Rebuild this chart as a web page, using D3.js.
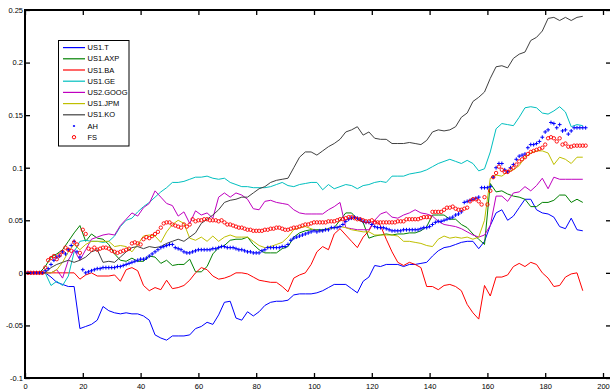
<!DOCTYPE html>
<html>
<head>
<meta charset="utf-8">
<script src="https://cdn.jsdelivr.net/npm/d3@7"></script>
<style>
  html, body { margin: 0; padding: 0; background: #fff; }
  svg { display: block; }
  text { font-family: "Liberation Sans", Arial, Helvetica, sans-serif; font-size: 7.5px; fill: #000; }
</style>
</head>
<body>
<svg id="chart" width="610" height="390"></svg>
<script>
// Line series are sampled every second day (1, 3, ..., 193)
const lineDays = d3.range(1, 194, 2);
// Marker series are sampled every day (1 ... 194)
const markerDays = d3.range(1, 195);

const T = [
  0,0,0,0,-0.004,-0.009,-0.011,-0.013,-0.013,-0.053,
  -0.051,-0.049,-0.045,-0.032,-0.036,-0.038,-0.039,-0.038,-0.039,-0.039,
  -0.041,-0.045,-0.059,-0.062,-0.064,-0.06,-0.06,-0.06,-0.059,-0.053,
  -0.051,-0.047,-0.049,-0.04,-0.028,-0.027,-0.043,-0.045,-0.037,-0.041,
  -0.037,-0.031,-0.028,-0.027,-0.027,-0.026,-0.021,-0.02,-0.02,-0.02,
  -0.019,-0.017,-0.014,-0.011,-0.011,-0.011,-0.015,-0.019,-0.008,-0.004,
  0.007,0.006,0.008,0.008,0.008,0.006,0.008,0.008,0.009,0.01,
  0.016,0.021,0.024,0.025,0.027,0.029,0.03,0.03,0.023,0.03,
  0.045,0.057,0.06,0.05,0.054,0.062,0.07,0.07,0.06,0.057,
  0.056,0.053,0.044,0.042,0.052,0.041,0.04
];
const AXP = [
  0,0,0,0.006,0.015,0.018,0.022,0.03,0.038,0.045,
  0.03,0.037,0.033,0.032,0.027,0.018,0.012,0.011,0.014,0.011,
  0.011,0.016,0.015,0.009,0.012,0.007,0.008,0.008,0.013,0.001,
  0.001,0.006,0.018,0.024,0.026,0.031,0.032,0.032,0.034,0.027,
  0.022,0.019,0.019,0.019,0.023,0.025,0.034,0.038,0.04,0.041,
  0.041,0.041,0.042,0.043,0.05,0.057,0.057,0.051,0.048,0.033,
  0.035,0.036,0.037,0.036,0.037,0.037,0.038,0.038,0.04,0.044,
  0.055,0.055,0.055,0.051,0.051,0.046,0.043,0.037,0.032,0.027,
  0.085,0.077,0.078,0.075,0.073,0.072,0.07,0.063,0.063,0.067,
  0.067,0.069,0.074,0.074,0.067,0.07,0.067
];
const BA = [
  0,0,0,0,0,0,0,0,0,-0.006,
  -0.002,0,-0.003,-0.003,-0.003,-0.002,-0.008,0.003,0.005,0.002,
  -0.012,-0.017,-0.014,-0.016,-0.007,-0.015,-0.014,-0.012,-0.007,0,
  0.005,0.003,-0.003,-0.006,-0.005,-0.003,0,0,-0.001,-0.004,
  -0.007,-0.008,-0.009,-0.009,-0.013,-0.018,-0.005,-0.002,0,0.008,
  0.02,0.025,0.022,0.037,0.042,0.036,0.03,0.024,0.034,0.04,
  0.05,0.045,0.032,0.02,0.01,0.007,0.01,0.008,0.005,-0.013,
  -0.013,-0.016,-0.012,-0.011,-0.013,-0.017,-0.03,-0.038,-0.044,-0.012,
  -0.022,-0.004,-0.004,-0.002,0.006,0.009,0.006,0.01,0.008,0,
  -0.005,-0.013,-0.012,-0.004,-0.001,0,-0.017
];
const GE = [
  0,0,0,0,-0.012,-0.008,-0.012,-0.003,0.02,0.03,
  0.031,0.03,0.03,0.029,0.03,0.035,0.044,0.05,0.052,0.058,
  0.063,0.067,0.072,0.077,0.081,0.086,0.086,0.087,0.089,0.091,
  0.091,0.092,0.09,0.089,0.09,0.086,0.084,0.082,0.082,0.081,
  0.081,0.081,0.082,0.084,0.086,0.083,0.082,0.084,0.085,0.086,
  0.086,0.079,0.084,0.08,0.082,0.084,0.083,0.08,0.083,0.084,
  0.086,0.087,0.086,0.092,0.092,0.092,0.094,0.095,0.096,0.098,
  0.101,0.104,0.106,0.108,0.106,0.104,0.107,0.104,0.097,0.099,
  0.115,0.137,0.142,0.141,0.14,0.148,0.157,0.158,0.157,0.152,
  0.151,0.154,0.158,0.153,0.139,0.141,0.14
];
const GOOG = [
  0,0,0,0,0,0.003,-0.005,0.012,0.022,0.012,
  0.022,0.032,0.034,0.036,0.037,0.036,0.045,0.051,0.057,0.054,
  0.062,0.066,0.078,0.072,0.066,0.064,0.054,0.058,0.047,0.059,
  0.055,0.057,0.052,0.072,0.076,0.072,0.076,0.074,0.07,0.061,
  0.06,0.068,0.069,0.067,0.066,0.065,0.06,0.057,0.056,0.056,
  0.056,0.056,0.06,0.063,0.067,0.043,0.042,0.041,0.041,0.041,
  0.05,0.056,0.058,0.053,0.052,0.055,0.057,0.06,0.057,0.056,
  0.054,0.049,0.046,0.045,0.044,0.042,0.039,0.036,0.034,0.036,
  0.045,0.073,0.073,0.068,0.076,0.077,0.082,0.078,0.083,0.09,
  0.08,0.091,0.089,0.089,0.089,0.089,0.089
];
const JPM = [
  0,0,0,0,0,0.003,0.01,0.02,0.027,0.022,
  0.027,0.03,0.03,0.03,0.03,0.025,0.026,0.025,0.02,0.027,
  0.035,0.036,0.035,0.029,0.039,0.046,0.05,0.047,0.033,0.031,
  0.034,0.03,0.035,0.03,0.034,0.036,0.034,0.034,0.034,0.03,
  0.026,0.024,0.025,0.027,0.029,0.034,0.041,0.043,0.044,0.042,
  0.04,0.04,0.042,0.043,0.044,0.043,0.041,0.04,0.039,0.039,
  0.036,0.036,0.036,0.036,0.035,0.03,0.03,0.029,0.028,0.026,
  0.025,0.032,0.035,0.033,0.034,0.033,0.034,0.032,0.034,0.05,
  0.09,0.093,0.092,0.096,0.098,0.102,0.11,0.114,0.116,0.116,
  0.114,0.103,0.11,0.108,0.104,0.11,0.11
];
const KO = [
  0,0,0,0,0.005,0.008,0.01,0.012,0.01,0.012,
  0.015,0.02,0.022,0.01,0.011,0.01,0.015,0.02,0.024,0.025,
  0.023,0.025,0.024,0.025,0.028,0.03,0.032,0.03,0.034,0.038,
  0.047,0.051,0.055,0.06,0.067,0.069,0.07,0.072,0.072,0.076,
  0.08,0.082,0.086,0.088,0.089,0.09,0.1,0.11,0.115,0.115,
  0.112,0.116,0.12,0.123,0.127,0.134,0.136,0.139,0.131,0.134,
  0.128,0.127,0.127,0.123,0.123,0.123,0.124,0.123,0.122,0.126,
  0.134,0.136,0.135,0.136,0.139,0.148,0.152,0.163,0.167,0.172,
  0.185,0.196,0.197,0.195,0.204,0.208,0.21,0.221,0.224,0.23,
  0.242,0.243,0.24,0.243,0.24,0.243,0.244
];
const AH = [
  0,0,0,0,0,0,0.002,0.004,0.008,0.012,
  0.015,0.016,0.02,0.018,0.022,0.026,0.03,0.02,0.015,0.003,
  0,0.001,0.002,0.003,0.004,0.004,0.005,0.005,0.005,0.005,
  0.005,0.006,0.006,0.007,0.008,0.009,0.01,0.011,0.012,0.013,
  0.013,0.014,0.016,0.018,0.02,0.022,0.024,0.025,0.026,0.027,
  0.027,0.024,0.023,0.022,0.02,0.019,0.019,0.02,0.021,0.022,
  0.022,0.022,0.022,0.022,0.023,0.023,0.024,0.025,0.025,0.024,
  0.024,0.024,0.023,0.022,0.022,0.021,0.02,0.02,0.019,0.019,
  0.019,0.021,0.022,0.024,0.024,0.024,0.024,0.024,0.025,0.025,
  0.027,0.031,0.033,0.034,0.035,0.036,0.037,0.038,0.039,0.04,
  0.039,0.04,0.04,0.041,0.041,0.043,0.043,0.043,0.044,0.046,
  0.049,0.051,0.052,0.053,0.052,0.051,0.049,0.048,0.048,0.046,
  0.044,0.043,0.043,0.043,0.042,0.041,0.04,0.04,0.04,0.04,
  0.041,0.041,0.041,0.041,0.041,0.041,0.042,0.043,0.043,0.044,
  0.046,0.048,0.049,0.049,0.05,0.051,0.052,0.053,0.055,0.056,
  0.058,0.067,0.068,0.069,0.07,0.071,0.072,0.081,0.081,0.081,
  0.082,0.091,0.1,0.104,0.104,0.098,0.096,0.1,0.103,0.108,
  0.111,0.112,0.113,0.119,0.122,0.122,0.123,0.125,0.129,0.134,
  0.136,0.143,0.142,0.138,0.141,0.135,0.136,0.132,0.135,0.138,
  0.138,0.138,0.138,0.138
];
const FS = [
  0,0,0,0,0,0,0.005,0.012,0.014,0.016,
  0.013,0.017,0.02,0.024,0.022,0.021,0.029,0.027,0.019,0.041,
  0.037,0.023,0.022,0.024,0.022,0.023,0.024,0.024,0.023,0.021,
  0.02,0.019,0.02,0.021,0.022,0.023,0.028,0.029,0.028,0.027,
  0.032,0.034,0.033,0.035,0.037,0.039,0.043,0.047,0.048,0.048,
  0.046,0.045,0.044,0.043,0.046,0.044,0.046,0.051,0.049,0.05,
  0.05,0.051,0.051,0.05,0.05,0.05,0.049,0.05,0.048,0.046,
  0.046,0.045,0.044,0.043,0.043,0.042,0.041,0.041,0.04,0.04,
  0.04,0.04,0.041,0.041,0.042,0.042,0.043,0.043,0.042,0.041,
  0.041,0.042,0.043,0.043,0.044,0.045,0.046,0.046,0.047,0.048,
  0.048,0.048,0.048,0.048,0.049,0.049,0.049,0.05,0.051,0.051,
  0.052,0.053,0.053,0.052,0.051,0.051,0.05,0.049,0.049,0.05,
  0.048,0.048,0.048,0.048,0.048,0.048,0.048,0.048,0.049,0.049,
  0.049,0.051,0.051,0.051,0.051,0.051,0.052,0.053,0.053,0.053,
  0.058,0.058,0.058,0.058,0.06,0.062,0.062,0.063,0.061,0.06,
  0.06,0.061,0.062,0.068,0.07,0.07,0.068,0.065,0.072,0.065,
  0.078,0.091,0.095,0.101,0.098,0.096,0.096,0.098,0.1,0.103,
  0.106,0.108,0.11,0.113,0.115,0.116,0.117,0.118,0.119,0.122,
  0.128,0.129,0.128,0.125,0.128,0.122,0.123,0.12,0.12,0.121,
  0.121,0.121,0.121,0.121
];

const lineSeries = [
  { name: "US1.T",    values: T,    color: "#0000ff" },
  { name: "US1.AXP",  values: AXP,  color: "#008000" },
  { name: "US1.BA",   values: BA,   color: "#ff0000" },
  { name: "US1.GE",   values: GE,   color: "#00bfbf" },
  { name: "US2.GOOG", values: GOOG, color: "#bf00bf" },
  { name: "US1.JPM",  values: JPM,  color: "#bfbf00" },
  { name: "US1.KO",   values: KO,   color: "#404040" }
];
const markerSeries = [
  { name: "AH", values: AH, color: "#0000ff", shape: "plus" },
  { name: "FS", values: FS, color: "#ff0000", shape: "circle" }
];

const xTicks = [0, 20, 40, 60, 80, 100, 120, 140, 160, 180, 200];
const yTicks = [-0.1, -0.05, 0, 0.05, 0.1, 0.15, 0.2, 0.25];

const svg = d3.select("#chart");
const plotLeft = 25, plotRight = 603, plotTop = 10, plotBottom = 378, frameRight = 612;

const x = d3.scaleLinear().domain([0, 200]).range([plotLeft, plotRight]);
const y = d3.scaleLinear().domain([-0.1, 0.25]).range([plotBottom, plotTop]);

// Series lines
const line = d3.line().x((d, i) => x(lineDays[i])).y(d => y(d));
svg.append("g").selectAll("path")
  .data(lineSeries).join("path")
  .attr("fill", "none")
  .attr("stroke", d => d.color)
  .attr("stroke-width", 1)
  .attr("stroke-linejoin", "round")
  .attr("d", d => line(d.values));

// Marker series
function plusPath(cx, cy, a) {
  return `M${cx - a},${cy}H${cx + a}M${cx},${cy - a}V${cy + a}`;
}
markerSeries.forEach(s => {
  const g = svg.append("g");
  if (s.shape === "plus") {
    g.append("path")
      .attr("fill", "none")
      .attr("stroke", s.color)
      .attr("stroke-width", 1)
      .attr("d", s.values.map((v, i) => plusPath(x(markerDays[i]), y(v), 1.9)).join(""));
  } else {
    g.selectAll("circle").data(s.values).join("circle")
      .attr("cx", (v, i) => x(markerDays[i]))
      .attr("cy", v => y(v))
      .attr("r", 1.7)
      .attr("fill", "none")
      .attr("stroke", s.color)
      .attr("stroke-width", 0.9);
  }
});

// Axes with inward ticks
const fmt = d => (d === 0 ? "0" : String(+d.toFixed(2)));
const axB = svg.append("g").attr("transform", `translate(0,${plotBottom})`)
  .call(d3.axisBottom(x).tickValues(xTicks).tickSize(-5).tickSizeOuter(0).tickPadding(6).tickFormat(d3.format("d")));
const axT = svg.append("g").attr("transform", `translate(0,${plotTop})`)
  .call(d3.axisTop(x).tickValues(xTicks).tickSize(-5).tickSizeOuter(0).tickFormat(""));
const axL = svg.append("g").attr("transform", `translate(${plotLeft},0)`)
  .call(d3.axisLeft(y).tickValues(yTicks).tickSize(-5).tickSizeOuter(0).tickPadding(2).tickFormat(fmt));
const axR = svg.append("g").attr("transform", `translate(${frameRight},0)`)
  .call(d3.axisRight(y).tickValues(yTicks).tickSize(-6).tickSizeOuter(0).tickFormat(""));
[axB, axT, axL, axR].forEach(a => {
  a.attr("font-size", null).attr("font-family", null);
  a.select(".domain").remove();
  a.selectAll(".tick line").attr("stroke", "#000").attr("stroke-width", 1.3);
  a.selectAll("text").style("fill", "#000");
});

// Axes frame
svg.append("path")
  .attr("fill", "none")
  .attr("stroke", "#000")
  .attr("stroke-width", 2)
  .attr("d", `M${plotLeft},${plotTop}H${frameRight}V${plotBottom}H${plotLeft}Z`);

// Legend
const legend = svg.append("g");
legend.append("rect")
  .attr("x", 58.5).attr("y", 40.5).attr("width", 70.5).attr("height", 105.5)
  .attr("fill", "#fff").attr("stroke", "#000").attr("stroke-width", 1);
const entries = lineSeries.concat(markerSeries);
entries.forEach((s, i) => {
  const ly = 47.6 + 11.2 * i;
  if (s.shape === "plus") {
    legend.append("path").attr("fill", "none").attr("stroke", s.color).attr("stroke-width", 1.1)
      .attr("d", plusPath(74, ly, 1.1));
  } else if (s.shape === "circle") {
    legend.append("circle").attr("cx", 74).attr("cy", ly).attr("r", 1.7)
      .attr("fill", "none").attr("stroke", s.color).attr("stroke-width", 1);
  } else {
    legend.append("line").attr("x1", 63).attr("x2", 85).attr("y1", ly).attr("y2", ly)
      .attr("stroke", s.color).attr("stroke-width", 1.2);
  }
  legend.append("text").attr("x", 87.5).attr("y", ly).attr("dy", "0.35em").text(s.name);
});
</script>
</body>
</html>
